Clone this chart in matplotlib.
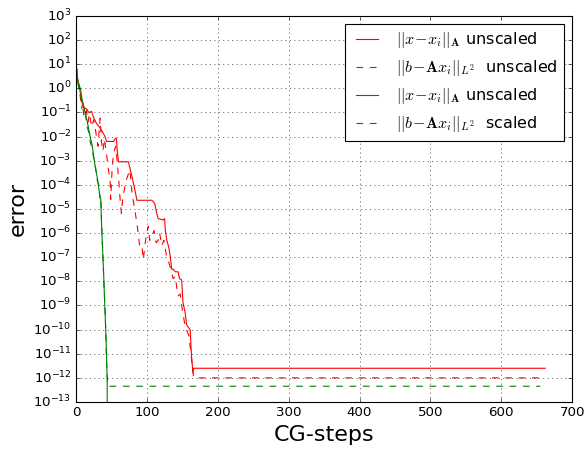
import numpy as np
import matplotlib
matplotlib.use('Agg')
import matplotlib.pyplot as plt
from matplotlib.ticker import LogLocator, NullLocator

# red: unscaled
red_err_steps = [0, 2, 5, 8, 11, 15, 18, 22, 25, 29, 33, 37, 41, 43, 53, 55, 57, 58, 60,
                 74, 76, 79, 83, 86, 107, 109, 111, 114, 116, 123, 125, 126, 128, 131,
                 133, 135, 137, 140, 144, 146, 149, 151, 154, 156, 158, 161, 163, 165,
                 166, 662]
red_err = [1e1, 3e0, 1e0, 3e-1, 1.6e-1, 1.4e-1, 1e-1, 1.1e-1, 6e-2, 3.5e-2, 2.5e-2, 1.6e-2,
           1e-2, 6.3e-3, 6.3e-3, 8e-3, 8.5e-3, 3e-3, 9e-4, 9e-4, 5e-4, 2.2e-4, 6.3e-5,
           2.3e-5, 2.3e-5, 2e-5, 1.7e-5, 6.3e-6, 4e-6, 3.5e-6, 4e-6, 1.3e-6, 5.2e-7,
           2.5e-7, 1.05e-7, 3.2e-8, 3.2e-8, 2.5e-8, 2.5e-8, 1.3e-8, 1.15e-8, 1.3e-9,
           5e-10, 1.6e-10, 1.3e-10, 1e-10, 7.6e-12, 1.6e-12, 2.5e-12, 2.5e-12]

red_res_steps = [0, 2, 4, 6, 8, 10, 13, 15, 17, 19, 22, 25, 28, 31, 34, 36, 38, 40, 43, 45,
                 48, 49, 51, 53, 56, 58, 60, 62, 64, 66, 69, 72, 76, 78, 79, 81, 83, 86,
                 88, 90, 93, 95, 97, 99, 102, 104, 107, 110, 113, 116, 118, 121, 124, 128,
                 131, 134, 137, 140, 142, 144, 147, 149, 152, 154, 157, 159, 161, 162, 164,
                 166, 660]
red_res = [2.5e1, 3e0, 1e0, 4.5e-1, 1.5e-1, 3e-1, 7e-2, 1.2e-1, 4e-2, 9e-2, 2.5e-2, 5e-2,
           1.5e-2, 4e-3, 5.8e-2, 6e-3, 2.5e-3, 8e-3, 2e-3, 6e-4, 1.6e-4, 2.5e-5, 5e-4,
           2e-3, 4e-3, 1e-3, 2e-4, 3e-5, 6.6e-6, 3e-5, 8.5e-5, 2e-4, 4.2e-4, 1e-4, 5e-5,
           2e-5, 9e-6, 2.5e-6, 8e-7, 2.7e-7, 3e-7, 8e-8, 2.7e-7, 8e-7, 1.9e-6, 5e-7, 7e-7,
           1.3e-6, 4e-7, 5e-7, 1e-6, 3e-7, 5e-7, 1e-7, 6e-8, 3e-8, 1.3e-8, 1.6e-8, 6e-9,
           2.5e-9, 3e-9, 1e-9, 3e-10, 1.3e-10, 8e-11, 6e-11, 2e-11, 1.3e-11, 3e-12, 1e-12,
           1e-12]

# green: scaled
green_err_steps = [0, 3, 6, 9, 13, 16, 20, 23, 27, 30, 34, 35, 36, 37, 38, 39, 40, 41, 42,
                   43, 44, 44]
green_err = [4e0, 1.8e0, 1e0, 3e-1, 1e-1, 4e-2, 1e-2, 4e-3, 6e-4, 2e-4, 3e-5, 2.5e-5,
             2.5e-6, 5e-7, 1e-7, 2e-8, 3e-9, 5e-10, 8e-11, 1e-11, 1e-12, 1e-16]

green_res_steps = [0, 3, 6, 9, 11, 13, 15, 18, 20, 22, 25, 27, 30, 32, 34, 35, 36, 38, 40,
                   42, 43, 44, 45, 655]
green_res = [6e0, 1.5e0, 6e-1, 2e-1, 8e-2, 1.2e-1, 3e-2, 1.5e-2, 6e-3, 4e-3, 1.2e-3, 7e-4,
             1.5e-4, 1e-4, 2.5e-5, 3e-5, 3e-6, 1e-7, 3e-9, 1e-10, 5e-12, 1e-12, 4.5e-13,
             4.5e-13]

plt.style.use('classic')
plt.rcParams['mathtext.fontset'] = 'cm'

fig = plt.figure(figsize=(586 / 80, 449 / 80), dpi=80)
ax = fig.add_axes([0.1297, 0.1047, 0.8467, 0.8597])

ax.semilogy(red_err_steps, red_err, 'r-', label=r'$||x\!-\!x_i||_\mathbf{A}$ unscaled')
ax.semilogy(red_res_steps, red_res, 'r--', label=r'$||b\!-\!\mathbf{A}x_i||_{L^2}$  unscaled')
ax.semilogy(green_err_steps, green_err, 'g-', label=r'$||x\!-\!x_i||_\mathbf{A}$ unscaled')
ax.semilogy(green_res_steps, green_res, 'g--', label=r'$||b\!-\!\mathbf{A}x_i||_{L^2}$  scaled')

ax.set_xlim(0, 700)
ax.set_ylim(1e-13, 1e3)
ax.yaxis.set_major_locator(LogLocator(base=10, numticks=20))
ax.yaxis.set_minor_locator(NullLocator())
ax.grid(True)
ax.set_xlabel('CG-steps', fontsize=20)
ax.set_ylabel('error', fontsize=20)
ax.legend(loc='upper right')

fig.savefig('out.png', dpi=80)
